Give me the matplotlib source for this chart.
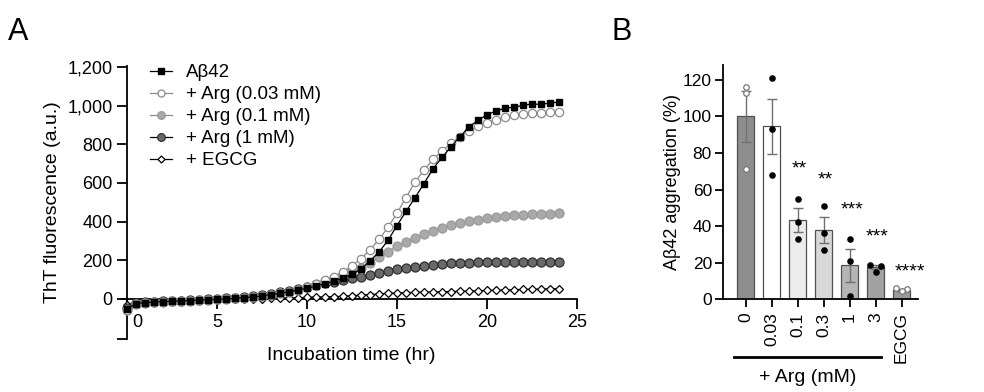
import numpy as np
import matplotlib
matplotlib.use("Agg")
import matplotlib.pyplot as plt
import matplotlib.transforms as mtransforms

plt.rcParams['font.family'] = ['Liberation Sans', 'DejaVu Sans']

# ---- panel A data: ThT kinetics, every 0.5 hr from 0 to 24 ----
time_hr = np.arange(0, 24.5, 0.5)

abeta42 = [-50, -24, -19, -16, -14, -12, -10, -8, -6, -4, -2, 0, 3, 7, 11, 16, 22, 29, 37, 46,
           56, 67, 80, 92, 108, 128, 155, 197, 243, 303, 380, 453, 524, 597, 674, 732, 788,
           839, 890, 924, 953, 972, 987, 992, 1001, 1009, 1006, 1014, 1018]
arg_003 = [-55, -25, -20, -17, -14, -12, -10, -8, -6, -4, -2, 0, 3, 7, 11, 16, 22, 29, 37, 47,
           60, 78, 99, 116, 141, 170, 209, 255, 308, 371, 444, 524, 606, 666, 723, 766, 805,
           839, 870, 894, 912, 928, 940, 950, 957, 962, 964, 965, 965]
arg_01 = [-55, -25, -20, -17, -14, -12, -10, -8, -6, -4, -2, 0, 3, 7, 11, 16, 22, 29, 37, 47,
          60, 75, 92, 110, 130, 145, 160, 185, 215, 245, 272, 295, 317, 337, 354, 368, 381,
          391, 402, 409, 417, 422, 427, 432, 436, 438, 440, 442, 444]
arg_1 = [-45, -22, -18, -15, -12, -10, -8, -6, -4, -2, 0, 3, 7, 11, 16, 22, 28, 35, 42, 51,
         60, 72, 82, 90, 99, 107, 116, 126, 136, 145, 153, 160, 167, 171, 175, 180, 184,
         186, 187, 189, 191, 191, 191, 191, 191, 192, 192, 191, 191]
egcg = [-30, -18, -14, -12, -10, -8, -7, -6, -5, -4, -3, -2, -1, 0, 1, 2, 3, 4, 5, 6,
        8, 10, 11, 12, 14, 17, 20, 23, 26, 29, 31, 33, 34, 35, 36, 37, 38, 40, 41, 42,
        44, 45, 46, 48, 49, 50, 51, 52, 53]

# ---- panel B data: aggregation (%) ----
b_labels = ['0', '0.03', '0.1', '0.3', '1', '3', 'EGCG']
b_means = [100, 94.5, 43.5, 38, 18.5, 17.5, 5]
b_sem = [14, 15, 6.5, 7, 9, 1.2, 0.6]
b_points = [[116, 113, 71], [121, 93, 68], [55, 42, 33], [51, 36, 27],
            [33, 21, 2], [19, 18, 15], [6, 5.5, 4.5]]
b_stars = ['', '', '**', '**', '***', '***', '****']
b_star_y = [0, 0, 71, 65, 49, 34, 15]

fig = plt.figure(figsize=(9.84, 3.92), dpi=100)
W, H = 984., 392.

# ---------------- panel A ----------------
axA = fig.add_axes([122 / W, (H - 338.6) / H, 455 / W, 272.6 / H])
axA.plot(time_hr, egcg, '-', color='black', lw=0.9, marker='D', ms=4.2,
         mfc='white', mec='black', mew=0.9, label='+ EGCG', zorder=3)
axA.plot(time_hr, arg_1, '-', color='black', lw=0.9, marker='o', ms=6.5,
         mfc='#6a6a6a', mec='#303030', mew=0.9, label='+ Arg (1 mM)', zorder=4)
axA.plot(time_hr, arg_01, '-', color='#8c8c8c', lw=0.9, marker='o', ms=6.5,
         mfc='#a9a9a9', mec='#9a9a9a', mew=0.9, label='+ Arg (0.1 mM)', zorder=4)
axA.plot(time_hr, arg_003, '-', color='#8c8c8c', lw=0.9, marker='o', ms=6,
         mfc='white', mec='#8a8a8a', mew=0.9, label='+ Arg (0.03 mM)', zorder=5)
axA.plot(time_hr, abeta42, '-', color='black', lw=0.9, marker='s', ms=5,
         mfc='black', mec='black', label='A\u03b242', zorder=6)

axA.set_xlim(-0.28, 25)
axA.set_ylim(-205, 1205)
axA.spines['top'].set_visible(False)
axA.spines['right'].set_visible(False)
axA.spines['left'].set_position(('data', 0))
axA.spines['bottom'].set_position(('data', 0))
for s in ['left', 'bottom']:
    axA.spines[s].set_linewidth(1.3)
axA.set_xticks([0, 5, 10, 15, 20, 25])
axA.set_yticks([-205, 0, 200, 400, 600, 800, 1000, 1200])
axA.set_yticklabels(['', '0', '200', '400', '600', '800', '1,000', '1,200'])
axA.tick_params(axis='both', labelsize=13, width=1.3, length=7, direction='out')
axA.tick_params(axis='x', pad=4)
# shift the "0" label off the y spine
lab0 = axA.get_xticklabels()[0]
lab0.set_transform(lab0.get_transform() + mtransforms.ScaledTranslation(10 / 100, 0, fig.dpi_scale_trans))
axA.set_xlabel('Incubation time (hr)', fontsize=14)
axA.xaxis.set_label_coords((351 - 122) / 455, -0.03)
axA.set_ylabel('ThT fluorescence (a.u.)', fontsize=14)
axA.yaxis.set_label_coords(-0.135, 0.5)

handles, labels = axA.get_legend_handles_labels()
axA.legend(handles[::-1], labels[::-1], loc='upper left', bbox_to_anchor=(0.045, 1.035),
           frameon=False, fontsize=13.5, handlelength=1.2, handletextpad=0.7,
           labelspacing=0.26, borderaxespad=0, markerscale=0.85)

fig.text(8 / W, 1 - 40 / H, 'A', fontsize=22)

# ---------------- panel B ----------------
axB = fig.add_axes([723 / W, 92.7 / H, 195 / W, 234.2 / H])
xpos = np.arange(len(b_labels))
bar_colors = ['#8e8e8e', 'white', '#ececec', '#d8d8d8', '#b5b5b5', '#a2a2a2', '#9a9a9a']
axB.bar(xpos, b_means, width=0.65, color=bar_colors, edgecolor='#505050', linewidth=0.9, zorder=2)
axB.errorbar(xpos, b_means, yerr=b_sem, fmt='none', ecolor='#707070', elinewidth=1,
             capsize=3.5, capthick=1, zorder=3)
jitter = [[0, 0, 0], [0, 0, 0], [0, 0, 0], [0, 0, 0], [0, 0, 0],
          [-0.2, 0.2, 0], [-0.2, 0.2, 0]]
star_dx = [0, 0, 0.05, 0.05, 0.1, 0.05, 0.3]
for i, pts in enumerate(b_points):
    xs = xpos[i] + np.array(jitter[i])
    if b_labels[i] in ('0', 'EGCG'):
        axB.scatter(xs, pts, s=16, facecolor='white', edgecolor='#777777', linewidth=0.9, zorder=4)
    else:
        axB.scatter(xs, pts, s=14, color='black', zorder=4)
    if b_stars[i]:
        axB.text(xpos[i] + star_dx[i], b_star_y[i], b_stars[i], ha='center', va='center',
                 fontsize=14, clip_on=False)

axB.set_xlim(-0.87, 6.63)
axB.set_ylim(0, 128)
axB.spines['top'].set_visible(False)
axB.spines['right'].set_visible(False)
for s in ['left', 'bottom']:
    axB.spines[s].set_linewidth(1.3)
axB.set_yticks([0, 20, 40, 60, 80, 100, 120])
axB.set_xticks(xpos)
axB.set_xticklabels(b_labels, rotation=90, ha='center', va='top')
axB.tick_params(axis='both', labelsize=12.5, width=1.3, length=6, direction='out')
axB.tick_params(axis='y', pad=2)
axB.set_ylabel('A\u03b242 aggregation (%)', fontsize=13)
axB.yaxis.set_label_coords(-0.215, 0.5)

trans = mtransforms.blended_transform_factory(axB.transData, axB.transAxes)
axB.plot([-0.44, 5.21], [-0.246, -0.246], color='black', lw=2, transform=trans, clip_on=False)
axB.text(2.38, -0.333, '+ Arg (mM)', transform=trans, ha='center', va='center', fontsize=14)

fig.text(612 / W, 1 - 40 / H, 'B', fontsize=22)

fig.savefig('out.png', dpi=100)
